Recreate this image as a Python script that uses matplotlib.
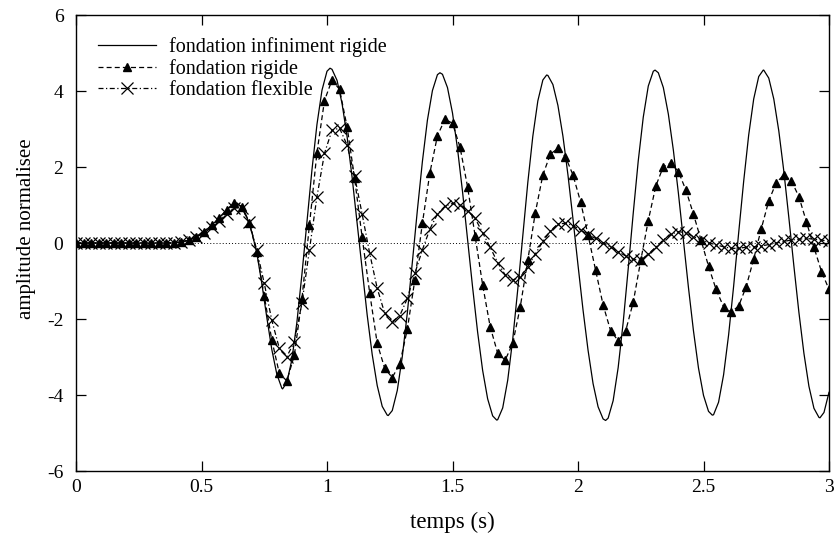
import numpy as np
import matplotlib
matplotlib.use("Agg")
import matplotlib.pyplot as plt

# ---------------- data ----------------
# solid curve: "fondation infiniment rigide" (regular grid, step 0.02 s)
solid_grid_t0 = 0.0
solid_grid_dt = 0.02
solid_v = [
    0, 0, 0, 0, 0, 0, 0, 0, 0, 0,
    0, 0, 0, 0, 0, 0, 0, 0, 0, 0,
    0.01, 0.03, 0.06, 0.11, 0.17, 0.25, 0.35, 0.47, 0.59, 0.73,
    0.87, 1.00, 1.04, 0.96, 0.70, 0.30, -0.25, -1.05, -1.95, -2.80,
    -3.45, -3.82, -3.67, -3.07, -2.09, -0.83, 0.56, 1.92, 3.12, 4.02,
    4.52, 4.57, 4.28, 3.67, 2.80, 1.73, 0.52, -0.71, -1.89, -2.93,
    -3.75, -4.30, -4.53, -4.41, -3.88, -2.99, -1.84, -0.51, 0.86, 2.14,
    3.23, 4.01, 4.43, 4.44, 4.09, 3.42, 2.48, 1.35, 0.10, -1.16,
    -2.34, -3.35, -4.10, -4.55, -4.65, -4.34, -3.61, -2.53, -1.22, 0.20,
    1.59, 2.81, 3.74, 4.29, 4.41, 4.17, 3.62, 2.81, 1.79, 0.63,
    -0.58, -1.76, -2.82, -3.70, -4.31, -4.63, -4.61, -4.15, -3.28, -2.09,
    -0.68, 0.78, 2.16, 3.31, 4.13, 4.52, 4.48, 4.09, 3.39, 2.44,
    1.31, 0.07, -1.17, -2.31, -3.29, -4.01, -4.43, -4.52, -4.19, -3.47,
    -2.42, -1.14, 0.26, 1.62, 2.84, 3.79, 4.38, 4.55, 4.34, 3.79,
    2.95, 1.89, 0.67, -0.60, -1.82, -2.90, -3.77, -4.35, -4.59, -4.46,
    -3.93,
]
# extrema of the solid curve
solid_peak_t = [0.823, 1.012, 1.244, 1.450, 1.676, 1.875, 2.110, 2.307, 2.535, 2.738, 2.964]
solid_peak_v = [-3.84, 4.60, -4.54, 4.48, -4.66, 4.42, -4.67, 4.55, -4.53, 4.55, -4.60]

# marker series (step 0.03 s)
marker_dt = 0.03
rigide_v = [
    0, 0, 0, 0, 0, 0, 0, 0, 0, 0,
    0, 0, 0, 0.01, 0.03, 0.08, 0.17, 0.30, 0.47, 0.65,
    0.87, 1.04, 0.96, 0.53, -0.23, -1.39, -2.55, -3.43, -3.63, -2.95,
    -1.48, 0.47, 2.38, 3.75, 4.29, 4.04, 3.06, 1.70, 0.15, -1.31,
    -2.64, -3.30, -3.54, -3.18, -2.27, -0.97, 0.52, 1.85, 2.82, 3.26,
    3.15, 2.52, 1.48, 0.19, -1.10, -2.20, -2.90, -3.08, -2.64, -1.68,
    -0.45, 0.80, 1.79, 2.34, 2.49, 2.27, 1.79, 1.09, 0.21, -0.71,
    -1.63, -2.31, -2.57, -2.31, -1.56, -0.46, 0.59, 1.50, 2.01, 2.10,
    1.88, 1.39, 0.76, 0.08, -0.61, -1.22, -1.68, -1.82, -1.66, -1.15,
    -0.42, 0.37, 1.11, 1.59, 1.79, 1.64, 1.22, 0.56, -0.11, -0.75,
    -1.22,
]
flexible_v = [
    0, 0, 0, 0, 0, 0, 0, 0, 0, 0,
    0, 0, 0, 0.01, 0.03, 0.07, 0.15, 0.27, 0.42, 0.58,
    0.77, 0.92, 0.93, 0.55, -0.18, -1.06, -2.03, -2.77, -2.99, -2.60,
    -1.59, -0.18, 1.22, 2.36, 2.97, 3.02, 2.58, 1.76, 0.76, -0.27,
    -1.19, -1.85, -2.07, -1.91, -1.46, -0.80, -0.18, 0.37, 0.76, 0.97,
    1.04, 1.00, 0.85, 0.65, 0.27, -0.11, -0.52, -0.84, -0.97, -0.90,
    -0.62, -0.29, 0.04, 0.32, 0.50, 0.52, 0.46, 0.34, 0.23, 0.12,
    0.01, -0.11, -0.23, -0.34, -0.43, -0.46, -0.29, -0.11, 0.08, 0.23,
    0.30, 0.27, 0.17, 0.08, 0.01, -0.05, -0.10, -0.14, -0.14, -0.11,
    -0.10, -0.08, -0.04, 0.00, 0.04, 0.08, 0.10, 0.12, 0.10, 0.08,
    0.04,
]

labels = ["fondation infiniment rigide", "fondation rigide", "fondation flexible"]
xticks = [0, 0.5, 1, 1.5, 2, 2.5, 3]
xticklabels = ["0", "0.5", "1", "1.5", "2", "2.5", "3"]
yticks = [-6, -4, -2, 0, 2, 4, 6]

# ---------------- build arrays ----------------
grid_t = solid_grid_t0 + solid_grid_dt * np.arange(len(solid_v))
st = np.concatenate([grid_t, solid_peak_t])
sv = np.concatenate([solid_v, solid_peak_v])
order = np.argsort(st, kind="stable")
st, sv = st[order], sv[order]

mt = marker_dt * np.arange(len(rigide_v))

# ---------------- plot ----------------
plt.rcParams["font.family"] = ["Liberation Serif", "DejaVu Serif"]
plt.rcParams["axes.unicode_minus"] = False
fig = plt.figure(figsize=(8.34, 5.35), dpi=100)
ax = fig.add_axes([76 / 834, 1 - 471 / 535, (829 - 76) / 834, (471 - 15) / 535])

ax.axhline(0, color="black", lw=0.7, ls=(0, (1, 2.2)), zorder=1)

ax.plot(st, sv, color="black", lw=0.9, label=labels[0], zorder=3)
ax.plot(mt, rigide_v, color="black", lw=0.9, ls=(0, (4, 2.5)),
        marker="^", ms=6, mfc="black", mec="black", label=labels[1], zorder=4)
ax.plot(mt, flexible_v, color="black", lw=0.9, ls=(0, (4, 2, 1, 2)),
        marker="x", ms=8, mew=0.9, label=labels[2], zorder=4)

ax.set_xlim(0, 3)
ax.set_ylim(-6, 6)
ax.set_xticks(xticks)
ax.set_xticklabels(xticklabels)
ax.set_yticks(yticks)
ax.tick_params(direction="in", length=7, width=0.9, top=True, right=True,
               labelsize=14, colors="black")
ax.tick_params(axis="y", pad=9)
ax.tick_params(axis="x", pad=6)
for s in ax.spines.values():
    s.set_linewidth(1.0)

ax.set_xlabel("temps (s)", fontsize=16.5, labelpad=11)
ax.set_ylabel("amplitude normalisee", fontsize=15, labelpad=8, y=0.531)

leg = ax.legend(loc="upper left", bbox_to_anchor=(0.0, 1.0), frameon=False,
                fontsize=14.5, handlelength=2.85, handletextpad=0.65,
                labelspacing=0.09, borderaxespad=0.7)

fig.savefig("out.png", dpi=100)
